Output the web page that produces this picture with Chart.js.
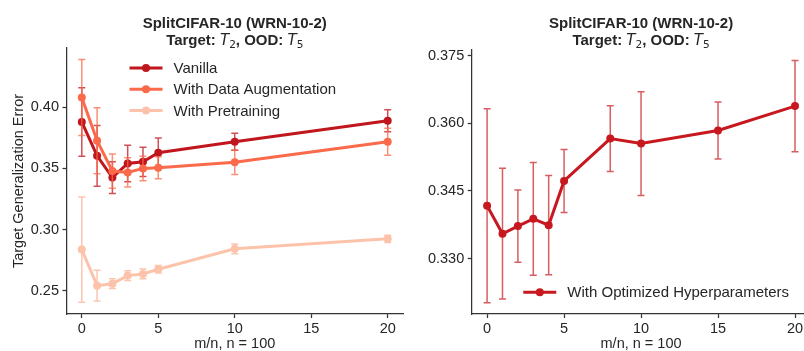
<!DOCTYPE html>
<html>
<head>
<meta charset="utf-8">
<script src="https://cdn.jsdelivr.net/npm/chart.js@4.4.1/dist/chart.umd.min.js"></script>
<style>
  html, body { margin: 0; padding: 0; background: #fff; overflow: hidden; }
  #wrap { position: relative; width: 804px; height: 351px; overflow: hidden; }
  canvas { position: absolute; top: 0; }
  #left { left: 0; }
  #right { left: 410px; }
</style>
</head>
<body>
<div id="wrap">
  <canvas id="left" width="410" height="351"></canvas>
  <canvas id="right" width="410" height="351"></canvas>
</div>
<script>
// left panel: m/n ratios and the three runs
const mRatio = [0, 1, 2, 3, 4, 5, 10, 20];
const vanilla = [0.388, 0.3603, 0.3425, 0.354, 0.3554, 0.3628, 0.3718, 0.389];
const vanillaErr = [0.028, 0.0248, 0.013, 0.015, 0.012, 0.012, 0.007, 0.009];
const dataAug = [0.408, 0.3726, 0.3478, 0.3467, 0.350, 0.3505, 0.355, 0.3718];
const dataAugErr = [0.031, 0.027, 0.014, 0.012, 0.010, 0.009, 0.010, 0.011];
const pretrain = [0.2836, 0.2541, 0.2557, 0.2623, 0.2637, 0.2675, 0.2842, 0.2924];
const pretrainErr = [0.043, 0.0125, 0.004, 0.004, 0.004, 0.003, 0.004, 0.003];

// right panel: optimized hyperparameters
const mRatioOpt = [0, 1, 2, 3, 4, 5, 8, 10, 15, 20];
const optHyper = [0.3417, 0.3355, 0.3372, 0.3388, 0.3374, 0.3472, 0.3566, 0.3555, 0.3584, 0.3638];
const optHyperErr = [0.0215, 0.0145, 0.008, 0.0125, 0.011, 0.007, 0.0073, 0.0115, 0.0063, 0.0101];

const xTicks = [0, 5, 10, 15, 20];
const yTicksLeft = [0.25, 0.30, 0.35, 0.40];
const yTicksRight = [0.330, 0.345, 0.360, 0.375];

const titleLine1 = 'SplitCIFAR-10 (WRN-10-2)';
const xLabel = 'm/n, n = 100';
const yLabel = 'Target Generalization Error';

const textColor = '#262626';
const axisColor = '#333333';
const sansFont = '"Liberation Sans", Arial, sans-serif';
const tickFont = { family: sansFont, size: 14.5 };

const errorBars = {
    id: 'errorBars',
    beforeDatasetDraw(chart, args) {
        const ds = chart.data.datasets[args.index];
        if (!ds.errors) return;
        const ctx = chart.ctx;
        const xs = chart.scales.x;
        const ys = chart.scales.y;
        ctx.save();
        ctx.strokeStyle = ds.errorColor;
        ctx.lineWidth = 1.5;
        ds.data.forEach((p, i) => {
            const px = xs.getPixelForValue(p.x);
            const top = ys.getPixelForValue(p.y + ds.errors[i]);
            const bot = ys.getPixelForValue(p.y - ds.errors[i]);
            ctx.beginPath();
            ctx.moveTo(px, top); ctx.lineTo(px, bot);
            ctx.moveTo(px - 3.5, top); ctx.lineTo(px + 3.5, top);
            ctx.moveTo(px - 3.5, bot); ctx.lineTo(px + 3.5, bot);
            ctx.stroke();
        });
        ctx.restore();
    }
};

// two-line title with T_2 / T_5 in math style
const richTitle = {
    id: 'richTitle',
    afterDraw(chart) {
        const { ctx, chartArea } = chart;
        const cx = (chartArea.left + chartArea.right) / 2;
        ctx.save();
        ctx.fillStyle = textColor;
        ctx.textBaseline = 'alphabetic';
        ctx.textAlign = 'center';
        ctx.font = 'bold 15px ' + sansFont;
        ctx.fillText(titleLine1, cx, 28);

        const bold = 'bold 15px ' + sansFont;
        const ital = 'italic 15px "DejaVu Sans", sans-serif';
        const sub = '10.5px "DejaVu Sans", sans-serif';
        const parts = [
            { t: 'Target: ', f: bold, dy: 0 },
            { t: 'T', f: ital, dy: 0 },
            { t: '2', f: sub, dy: 3.5 },
            { t: ', OOD: ', f: bold, dy: 0 },
            { t: 'T', f: ital, dy: 0 },
            { t: '5', f: sub, dy: 3.5 }
        ];
        let total = 0;
        parts.forEach(p => { ctx.font = p.f; p.w = ctx.measureText(p.t).width; total += p.w; });
        let x = cx - total / 2;
        ctx.textAlign = 'left';
        parts.forEach(p => {
            ctx.font = p.f;
            ctx.fillText(p.t, x, 44.5 + p.dy);
            x += p.w;
        });
        ctx.restore();
    }
};

const lineLegend = {
    id: 'lineLegend',
    afterDraw(chart, args, opts) {
        const ctx = chart.ctx;
        ctx.save();
        ctx.font = '15px ' + sansFont;
        ctx.textBaseline = 'middle';
        ctx.textAlign = 'left';
        chart.data.datasets.forEach((ds, i) => {
            const y = opts.y + i * opts.gap;
            ctx.strokeStyle = ds.borderColor;
            ctx.lineWidth = 3;
            ctx.beginPath();
            ctx.moveTo(opts.x, y);
            ctx.lineTo(opts.x + 33, y);
            ctx.stroke();
            ctx.fillStyle = ds.borderColor;
            ctx.beginPath();
            ctx.arc(opts.x + 16.5, y, 4, 0, Math.PI * 2);
            ctx.fill();
            ctx.fillStyle = textColor;
            ctx.fillText(ds.label, opts.x + 44, y + 1);
        });
        ctx.restore();
    }
};

function series(label, xs, ys, errs, color, errColor, order) {
    return {
        label: label,
        data: xs.map((m, i) => ({ x: m, y: ys[i] })),
        errors: errs,
        errorColor: errColor,
        borderColor: color,
        backgroundColor: color,
        pointBackgroundColor: color,
        pointBorderWidth: 0,
        pointRadius: 4,
        borderWidth: 3,
        tension: 0,
        fill: false,
        order: order
    };
}

function scales(yTicks, yMin, yMax, decimals, yWidth, showYTitle) {
    return {
        x: {
            type: 'linear',
            min: -1,
            max: 21,
            afterBuildTicks: s => { s.ticks = xTicks.map(v => ({ value: v })); },
            afterFit: s => { s.height = 37; },
            grid: { drawOnChartArea: false, drawTicks: true, tickLength: 4, tickColor: axisColor, tickWidth: 1.25 },
            border: { color: axisColor, width: 1.25 },
            ticks: { color: textColor, font: tickFont, padding: 2, maxRotation: 0, autoSkip: false, callback: v => String(v) },
            title: { display: true, text: xLabel, color: textColor, font: { family: sansFont, size: 14.5, lineHeight: 1 }, padding: 0 }
        },
        y: {
            type: 'linear',
            min: yMin,
            max: yMax,
            afterBuildTicks: s => { s.ticks = yTicks.map(v => ({ value: v })); },
            afterFit: s => { s.width = yWidth; },
            grid: { drawOnChartArea: false, drawTicks: true, tickLength: 4, tickColor: axisColor, tickWidth: 1.25 },
            border: { color: axisColor, width: 1.25 },
            ticks: { color: textColor, font: tickFont, padding: 3.5, autoSkip: false, callback: v => v.toFixed(decimals) },
            title: { display: showYTitle, text: yLabel, color: textColor, font: { family: sansFont, size: 14.5, lineHeight: 1.2 }, padding: { top: 10, bottom: 0 } }
        }
    };
}

new Chart(document.getElementById('left'), {
    type: 'line',
    data: {
        datasets: [
            series('Vanilla', mRatio, vanilla, vanillaErr, '#c0161d', 'rgba(192, 22, 29, 0.75)', 3),
            series('With Data Augmentation', mRatio, dataAug, dataAugErr, '#fb6a4a', 'rgba(251, 106, 74, 0.75)', 2),
            series('With Pretraining', mRatio, pretrain, pretrainErr, '#fdc3aa', 'rgba(252, 187, 161, 0.85)', 1)
        ]
    },
    options: {
        responsive: false,
        animation: false,
        devicePixelRatio: 1,
        layout: { padding: { left: 0, top: 48, right: 7, bottom: 0 } },
        scales: scales(yTicksLeft, 0.2309, 0.4485, 2, 66.5, true),
        plugins: {
            legend: { display: false },
            tooltip: { enabled: false },
            lineLegend: { x: 129.5, y: 68, gap: 21.3 }
        }
    },
    plugins: [errorBars, richTitle, lineLegend]
});

new Chart(document.getElementById('right'), {
    type: 'line',
    data: {
        datasets: [
            series('With Optimized Hyperparameters', mRatioOpt, optHyper, optHyperErr, '#c8181f', 'rgba(200, 24, 31, 0.7)', 1)
        ]
    },
    options: {
        responsive: false,
        animation: false,
        devicePixelRatio: 1,
        layout: { padding: { left: 0, top: 49.3, right: 9.6, bottom: 0 } },
        scales: scales(yTicksRight, 0.3177, 0.3764, 3, 61.7, false),
        plugins: {
            legend: { display: false },
            tooltip: { enabled: false },
            lineLegend: { x: 113.3, y: 292.3, gap: 0 }
        }
    },
    plugins: [errorBars, richTitle, lineLegend]
});
</script>
</body>
</html>
